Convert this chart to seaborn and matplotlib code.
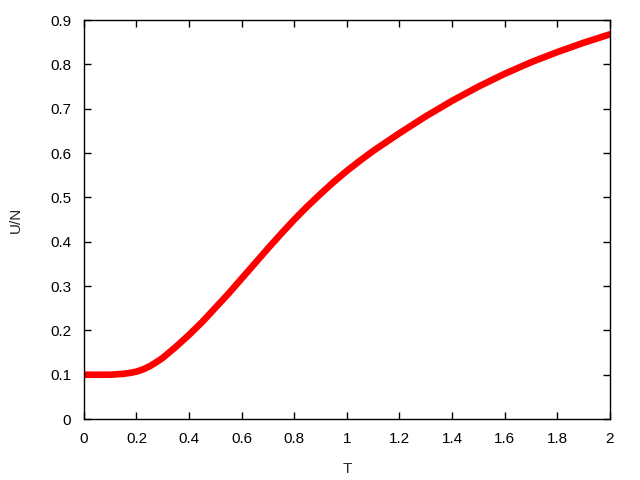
import pandas as pd
import seaborn as sns
import matplotlib.pyplot as plt

# values
temperature = [0.0, 0.05, 0.1, 0.125, 0.15, 0.175, 0.2, 0.225, 0.25, 0.275, 0.3, 0.35, 0.4,
               0.45, 0.5, 0.55, 0.6, 0.65, 0.7, 0.75, 0.8, 0.85, 0.9, 0.95, 1.0, 1.05, 1.1,
               1.2, 1.3, 1.4, 1.5, 1.6, 1.7, 1.8, 1.9, 2.0]
energy = [0.100, 0.100, 0.100, 0.101, 0.102, 0.104, 0.107, 0.112, 0.119, 0.128, 0.138,
          0.163, 0.190, 0.219, 0.251, 0.283, 0.317, 0.351, 0.385, 0.418, 0.450, 0.480,
          0.508, 0.535, 0.560, 0.583, 0.605, 0.645, 0.683, 0.718, 0.750, 0.779, 0.805,
          0.828, 0.849, 0.868]

x_ticks = [0, 0.2, 0.4, 0.6, 0.8, 1, 1.2, 1.4, 1.6, 1.8, 2]
x_labels = ["0", "0.2", "0.4", "0.6", "0.8", "1", "1.2", "1.4", "1.6", "1.8", "2"]
y_ticks = [0, 0.1, 0.2, 0.3, 0.4, 0.5, 0.6, 0.7, 0.8, 0.9]
y_labels = ["0", "0.1", "0.2", "0.3", "0.4", "0.5", "0.6", "0.7", "0.8", "0.9"]

df = pd.DataFrame({"T": temperature, "U/N": energy})

sns.set_theme(style="ticks")
plt.rcParams['font.family'] = ['Liberation Sans', 'DejaVu Sans']

fig, ax = plt.subplots(figsize=(6.4, 4.8), dpi=100)
fig.subplots_adjust(left=0.131, right=0.953, top=0.958, bottom=0.127)

sns.lineplot(data=df, x="T", y="U/N", color="#ff0000", linewidth=4.8, ax=ax)

ax.set_xlim(0, 2)
ax.set_ylim(0, 0.9)
ax.set_xticks(x_ticks)
ax.set_xticklabels(x_labels)
ax.set_yticks(y_ticks)
ax.set_yticklabels(y_labels)
ax.tick_params(direction="in", top=True, right=True, length=5, width=1,
               labelsize=11, colors="black", pad=9)
for s in ax.spines.values():
    s.set_color("black")
    s.set_linewidth(1)
ax.set_xlabel("T", fontsize=11, labelpad=12)
ax.set_ylabel("U/N", fontsize=11, labelpad=20)

fig.savefig("out.png")
